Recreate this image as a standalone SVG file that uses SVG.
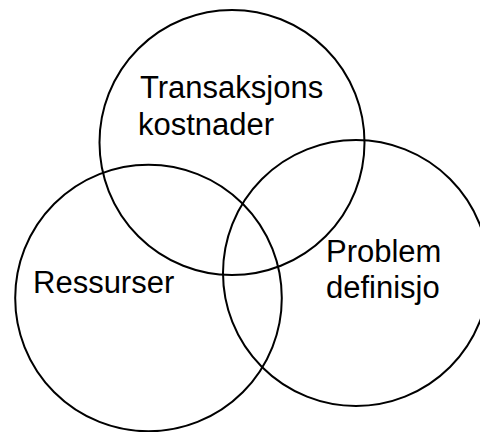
<svg xmlns="http://www.w3.org/2000/svg" width="480" height="432" viewBox="0 0 480 432">
<style>
.c{fill:none;stroke:#000;stroke-width:2}
.t{font-family:"Liberation Sans",Arial,Helvetica,sans-serif;font-size:31px;fill:#000}
</style>
<rect width="480" height="432" fill="#fff"/>
<g id="connectors"></g>
<g id="transaksjonskostnader">
<circle class="c" cx="232" cy="142.5" r="132.5"/>
<text class="t" x="140" y="98">Transaksjons</text>
<text class="t" x="138" y="135">kostnader</text>
</g>
<g id="ressurser">
<circle class="c" cx="148.5" cy="298" r="133.3"/>
<text class="t" x="33" y="293">Ressurser</text>
</g>
<g id="problemdefinisjo">
<circle class="c" cx="356" cy="273" r="133"/>
<text class="t" x="326" y="262">Problem</text>
<text class="t" x="326" y="298">definisjo</text>
</g>
</svg>
